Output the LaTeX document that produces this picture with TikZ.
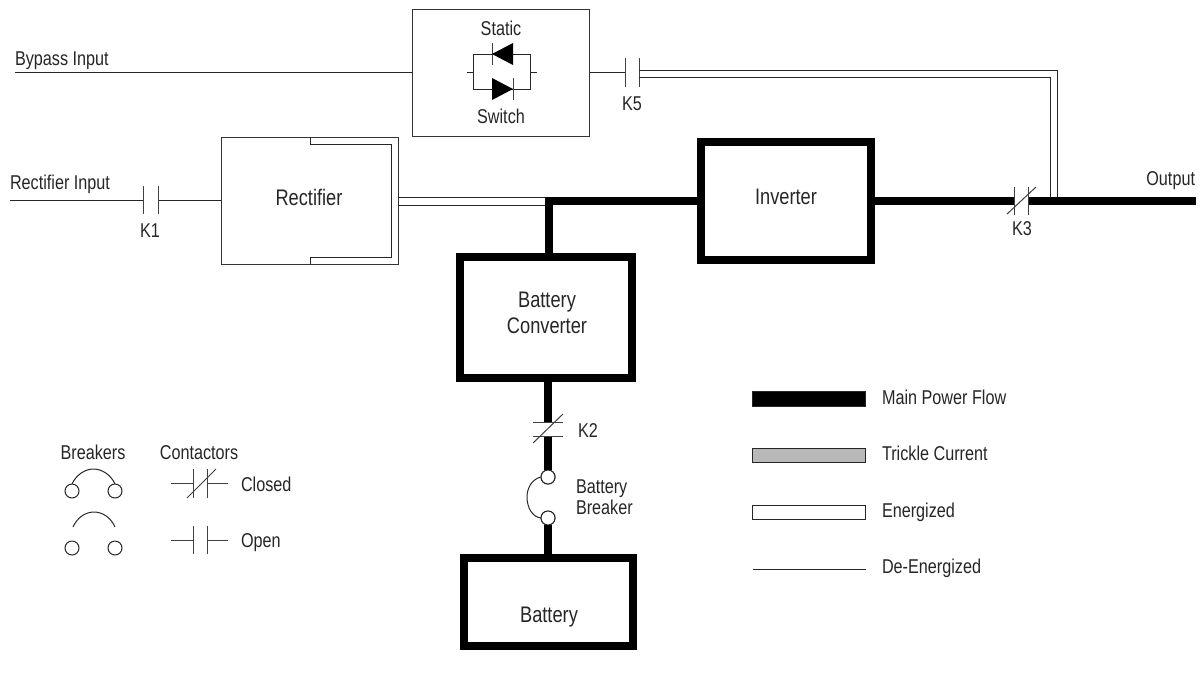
\documentclass[tikz,border=0pt]{standalone}
\usepackage{fontspec}
\setmainfont[FakeStretch=0.81]{Liberation Sans}
\usetikzlibrary{calc}
\tikzset{
  thin line/.style={line width=1pt,draw=black!85},
  flow/.style={line width=8pt,draw=black},
  plate/.style={line width=1pt,draw=black!75},
  lbl/.style={inner sep=0pt,outer sep=0pt,font=\fontsize{20}{25}\selectfont,text=black!85,align=center},
  biglbl/.style={lbl,font=\fontsize{22.5}{26}\selectfont},
  lblleft/.style={lbl,anchor=west,align=left},
  thinbox/.style={draw=black!80,line width=1pt,fill=white,inner sep=0pt,outer sep=0pt},
  thickbox/.style={draw=black,line width=8pt,fill=white,inner sep=0pt,outer sep=0pt},
  legendbar/.style={draw=black!85,line width=1pt,inner sep=0pt,outer sep=0pt,minimum width=113pt},
  brk/.style={circle,draw=black!85,line width=1pt,fill=white,minimum size=14pt,inner sep=0pt,outer sep=0pt},
}
\begin{document}
\begin{tikzpicture}[x=1pt,y=-1pt]
\useasboundingbox (0,0) rectangle (1201,681);

% main boxes
\node[thinbox,minimum width=177pt,minimum height=127pt] (static) at (501,73) {};
\node[thinbox,minimum width=177pt,minimum height=127pt] (rect) at (309.5,200.5) {};
\node[thickbox,minimum width=170pt,minimum height=118pt] (inv) at (786,201) {};
\node[thickbox,minimum width=172pt,minimum height=121pt] (conv) at (546,317.5) {};
\node[thickbox,minimum width=169pt,minimum height=88pt] (batt) at (548.5,602) {};

% rectifier inner outline
\coordinate (ri1) at (310,137); \coordinate (ri2) at (310,144);
\coordinate (ri3) at (391,144); \coordinate (ri4) at (391,257);
\coordinate (ri5) at (310,257); \coordinate (ri6) at (310,264);
\draw[thin line] (ri1) -- (ri2) -- (ri3) -- (ri4) -- (ri5) -- (ri6);

% bypass
\coordinate (bypin) at (15,72.5);
\coordinate (k5a) at (625,72.5); \coordinate (k5b) at (639,73.5);
\draw[thin line] (bypin) -- (bypin -| static.west);
\draw[thin line] (k5a -| static.east) -- (k5a);
\draw[plate] (625,58) -- (625,87);
\draw[plate] (639,58) -- (639,87);
\coordinate (e1) at (639,70); \coordinate (e2) at (1057,70); \coordinate (e3) at (1057,197);
\coordinate (e4) at (639,77); \coordinate (e5) at (1050,77); \coordinate (e6) at (1050,197);
\draw[thin line] (e1) -- (e2) -- (e3);
\draw[thin line] (e4) -- (e5) -- (e6);

% rectifier input
\coordinate (recin) at (10,200); \coordinate (k1a) at (143,200); \coordinate (k1b) at (158,200);
\draw[thin line] (recin) -- (k1a);
\draw[thin line] (k1b) -- (rect.west |- k1b);
\draw[plate] (143,186) -- (143,214);
\draw[plate] (158,186) -- (158,214);

% rectifier energized output
\coordinate (r1) at (398,197.3); \coordinate (r2) at (546,197.3);
\coordinate (r3) at (398,205); \coordinate (r4) at (546,205);
\draw[thin line] (r1) -- (r2);
\draw[thin line] (r3) -- (r4);

% main flow
\coordinate (j) at (548.5,201); \coordinate (k3a) at (1014.5,201); \coordinate (k3b) at (1028.5,201);
\coordinate (out) at (1196,201);
\draw[flow,line cap=butt] ($(j)+(-4,0)$) -- (inv.west);
\draw[flow] (inv.east) -- (k3a);
\draw[flow] (k3b) -- (out);
\draw[flow] ($(j)+(0,-4)$) -- (j |- conv.north);
% K3
\draw[plate] (1014.5,187) -- (1014.5,215);
\draw[plate] (1028.5,187) -- (1028.5,215);
\draw[plate] (1007,214) -- (1036,187);

% battery branch
\coordinate (k2a) at (548,422); \coordinate (k2b) at (548,436);
\node[brk] (bk1) at (548,477) {};
\node[brk] (bk2) at (548,518) {};
\draw[flow] (k2a |- conv.south) -- (k2a);
\draw[flow] (k2b) -- (bk1.north);
\draw[flow] (bk2.south) -- (bk2 |- batt.north);
\node[brk] at (bk1) {};
\node[brk] at (bk2) {};
\draw[plate] (533,422) -- (563,422);
\draw[plate] (533,436) -- (563,436);
\draw[plate] (533,443) -- (563,414);
\draw[thin line] (bk1.west) .. controls (532,479) and (527,488) .. (527,497) .. controls (527,507) and (532,517) .. (bk2.west);

% static switch symbol
\coordinate (ssl) at (473,72); \coordinate (ssr) at (530,72);
\draw[thin line] (473,89) -- (473,54) -- (530,54) -- (530,89) -- cycle;
\draw[thin line] (467,72) -- (ssl);
\draw[thin line] (ssr) -- (537,72);
\draw[plate] (492,43) -- (492,65);
\fill[black] (492,54) -- (513,43) -- (513,65) -- cycle;
\draw[plate] (513,78) -- (513,100);
\fill[black] (492,78) -- (492,100) -- (513,89) -- cycle;

% labels
\node[lbl] (tstatic) at (501,28) {Static};
\node[lbl] (tswitch) at (501,116) {Switch};
\node[lblleft] (tbyp) at (15,61) {Bypass Input};
\node[lblleft] (trin) at (10,184) {Rectifier Input};
\node[lbl] (tk5) at (632,104) {K5};
\node[lbl] (tk1) at (150,231) {K1};
\node[lbl] (tk3) at (1022,229) {K3};
\node[lbl] (tk2) at (588,431) {K2};
\node[lbl,anchor=east] (tout) at (1195,181) {Output};
\node[biglbl] (trect) at (309,197) {Rectifier};
\node[biglbl] (tinv) at (786,197) {Inverter};
\node[biglbl] (tconv) at (547,313) {Battery\\Converter};
\node[biglbl] (tbat) at (549,617) {Battery};
\node[lblleft,font=\fontsize{20}{21}\selectfont] (tbb) at (576,497) {Battery\\Breaker};

% legend left
\node[lbl] (tbrk) at (93,452) {Breakers};
\node[lbl] (tcon) at (199,453) {Contactors};
\node[brk] (c1) at (72,491) {};
\node[brk] (c2) at (115,491) {};
\node[brk] (c3) at (72,548) {};
\node[brk] (c4) at (115,548) {};
\draw[thin line] (c1.north) .. controls (76,475) and (85,469) .. (93.5,469) .. controls (102,469) and (111,475) .. (c2.north);
\coordinate (oa) at (73,527); \coordinate (ob) at (115,527);
\draw[thin line] (oa) .. controls (77,518) and (85,512) .. (94,512) .. controls (103,512) and (111,518) .. (ob);
\draw[plate] (171,483) -- (193,483);
\draw[plate] (207,483) -- (228,483);
\draw[plate] (193,469) -- (193,498);
\draw[plate] (207,469) -- (207,498);
\draw[plate] (187,498) -- (216,469);
\draw[plate] (171,540) -- (193,540);
\draw[plate] (207,540) -- (228,540);
\draw[plate] (193,526) -- (193,554);
\draw[plate] (207,526) -- (207,554);
\node[lblleft] (tcl) at (241,484) {Closed};
\node[lblleft] (top) at (241,543) {Open};

% legend right
\node[legendbar,fill=black,minimum height=15pt] (lb1) at (809,399) {};
\node[legendbar,fill=black!28,minimum height=14pt] (lb2) at (809,455.5) {};
\node[legendbar,fill=white,minimum height=14pt] (lb3) at (809,512) {};
\coordinate (l4a) at (753,569); \coordinate (l4b) at (866,569);
\draw[thin line] (l4a) -- (l4b);
\node[lblleft] (tl1) at (882,397) {Main Power Flow};
\node[lblleft] (tl2) at (882,453) {Trickle Current};
\node[lblleft] (tl3) at (882,512) {Energized};
\node[lblleft] (tl4) at (882,568) {De-Energized};
\end{tikzpicture}
\end{document}
